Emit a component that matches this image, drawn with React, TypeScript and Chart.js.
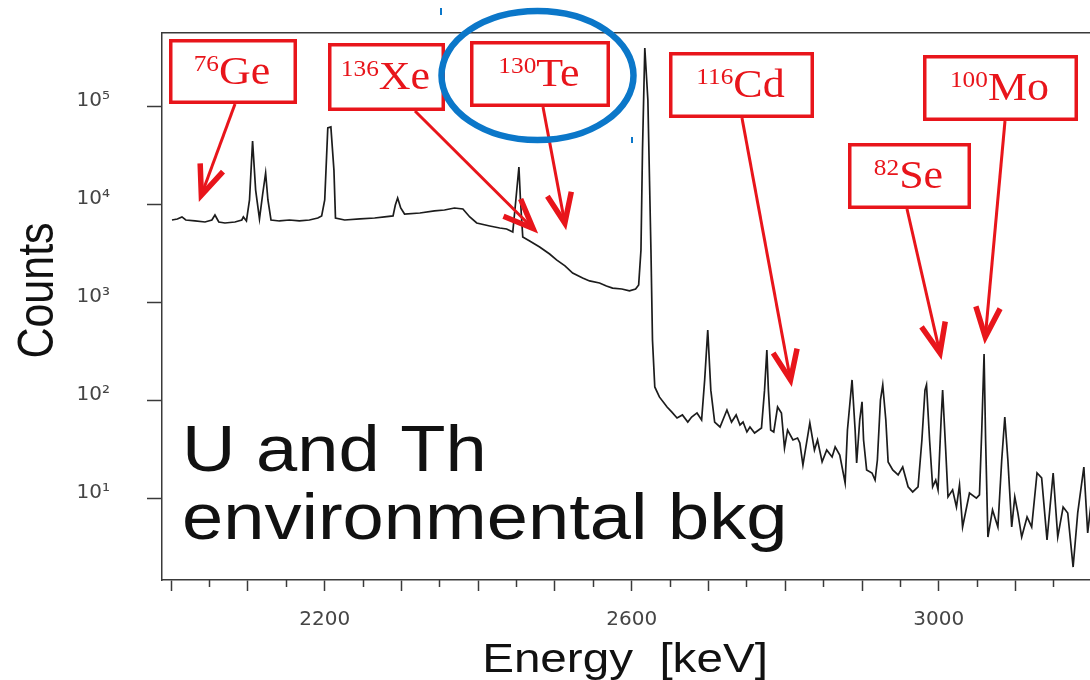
import { useEffect, useRef } from 'react';
import { Chart, registerables } from 'chart.js';

Chart.register(...registerables);

// Measured gamma spectrum (U/Th environmental background), energy in keV
const energyKeV = [
  2001, 2008, 2014, 2019, 2031, 2044, 2053, 2057, 2062, 2070,
  2083, 2092, 2094, 2098, 2102, 2106, 2110, 2115, 2119, 2123,
  2126, 2130, 2141, 2154, 2167, 2180, 2191, 2196, 2200, 2204,
  2208, 2212, 2214, 2226, 2246, 2265, 2278, 2289, 2292, 2295,
  2299, 2304, 2324, 2343, 2356, 2369, 2380, 2389, 2398, 2415,
  2428, 2437, 2445, 2449, 2453, 2455, 2458, 2467, 2480, 2493,
  2502, 2513, 2523, 2536, 2545, 2558, 2567, 2575, 2587, 2597,
  2605, 2609, 2612, 2614, 2617, 2621, 2625, 2627, 2630, 2636,
  2646, 2652, 2659, 2666, 2673, 2678, 2685, 2691, 2695, 2699,
  2703, 2708, 2715, 2724, 2730, 2736, 2741, 2745, 2750, 2754,
  2760, 2769, 2773, 2776, 2778, 2781, 2785, 2790, 2795, 2799,
  2803, 2810, 2816, 2819, 2823, 2832, 2838, 2842, 2848, 2854,
  2861, 2865, 2871, 2878, 2881, 2887, 2891, 2893, 2897, 2900,
  2902, 2906, 2913, 2917, 2920, 2924, 2927, 2931, 2934, 2940,
  2947, 2953, 2960, 2966, 2973, 2978, 2982, 2984, 2988, 2992,
  2996, 2999, 3003, 3005, 3009, 3012, 3018, 3023, 3027, 3031,
  3040, 3049, 3053, 3056, 3059, 3061, 3064, 3070, 3077, 3082,
  3086, 3090, 3095, 3099, 3103, 3108, 3115, 3121, 3128, 3134,
  3141, 3149, 3155, 3162, 3168, 3175, 3181, 3189, 3194, 3199,
];

// Counts per bin at each energy above
const counts = [
  7030, 7200, 7550, 7030, 6870, 6710, 7030, 7910, 6710, 6550,
  6710, 7030, 7550, 6870, 11250, 45000, 14200, 7200, 12650, 21200,
  11250, 7030, 6870, 7030, 6870, 7030, 7370, 7730, 11250, 61100,
  62500, 22700, 7370, 7030, 7200, 7370, 7550, 7730, 10000, 11800,
  9320, 8090, 8280, 8690, 8890, 9320, 9100, 7550, 6550, 6110,
  5820, 5690, 5300, 11250, 24400, 11250, 4710, 4290, 3730, 3160,
  2750, 2390, 2020, 1800, 1680, 1600, 1490, 1420, 1390, 1330,
  1390, 1530, 3470, 36400, 400000, 118000, 3470, 419, 139, 110,
  86.9, 77.3, 67.1, 72, 61, 68.5, 75.5, 64, 164, 530,
  129, 61, 54.3, 81, 61, 72, 56.9, 61, 48.3, 54.3,
  47.1, 53, 129, 331, 129, 50.6, 48.3, 86.9, 75.5, 33.1,
  50.6, 40, 41.9, 37.3, 22.2, 59.7, 31.6, 40, 23.9, 31.6,
  26.8, 34, 28.1, 14.6, 50.6, 164, 50.6, 23.3, 64, 98,
  40, 19.8, 18.4, 15.6, 25, 102, 146, 64, 23.9, 19.8,
  17.6, 21.2, 13.3, 11.8, 13.3, 40, 129, 146, 40, 13.3,
  15.6, 12.4, 64, 129, 31.6, 10.5, 12.4, 8.28, 13.9, 5.18,
  11.5, 10.2, 11, 50.6, 302, 40, 4.09, 7.73, 5.18, 25,
  68.7, 25, 5.18, 10.5, 7.2, 4.09, 6.55, 5.18, 18.4, 16.4,
  3.82, 18.4, 4.09, 8.28, 7.2, 2.02, 7.2, 21.2, 4.5, 10,
];

// Axis ticks
const majorTicksKeV = [2000, 2100, 2200, 2300, 2400, 2500, 2600, 2700, 2800, 2900, 3000, 3100];
const minorTicksKeV = [2050, 2150, 2250, 2350, 2450, 2550, 2650, 2750, 2850, 2950, 3050, 3150];
const labelledTicksKeV = [2200, 2600, 3000];
const countTicks = [10, 100, 1000, 10000, 100000];
const countTickLabels = ['10\u00B9', '10\u00B2', '10\u00B3', '10\u2074', '10\u2075'];

// Double-beta-decay candidates and the spectrum point each arrow marks
const isotopeMass = ['76', '136', '130', '116', '82', '100'];
const isotopeSymbol = ['Ge', 'Xe', 'Te', 'Cd', 'Se', 'Mo'];
const arrowTipKeV = [2037, 2476, 2514, 2808, 3003, 3060];
const arrowTipCounts = [11250, 5300, 5820, 146, 275, 400];

// Label box layout in canvas pixels: [left, top, right, bottom] and arrow tail
const labelBoxes = [
  [169, 39, 297, 104],
  [328, 43, 445, 111],
  [470, 41, 610, 107],
  [669, 52, 814, 118],
  [848, 143, 971, 209],
  [923, 55, 1078, 121],
];
const arrowTails = [
  [235, 104],
  [415, 111],
  [543, 107],
  [742, 118],
  [907, 209],
  [1005, 121],
];

const RED = '#e8151b';
const BLUE = '#0b77c9';
const AXIS = '#3a3a3a';
const SANS = '"Liberation Sans", Arial, sans-serif';
const SERIF = '"Liberation Serif", "Times New Roman", serif';

function stretchedText(
  ctx: CanvasRenderingContext2D,
  text: string,
  x: number,
  y: number,
  sx: number,
  align: CanvasTextAlign,
) {
  ctx.save();
  ctx.translate(x, y);
  ctx.scale(sx, 1);
  ctx.textAlign = align;
  ctx.textBaseline = 'alphabetic';
  ctx.fillText(text, 0, 0);
  ctx.restore();
}

function drawArrow(ctx: CanvasRenderingContext2D, x0: number, y0: number, tx: number, ty: number) {
  const back = Math.atan2(y0 - ty, x0 - tx);
  // pull the geometric tip back so the mitred point lands on the target
  const x1 = tx + Math.cos(back) * 5;
  const y1 = ty + Math.sin(back) * 5;
  ctx.strokeStyle = RED;
  ctx.lineCap = 'butt';
  ctx.lineJoin = 'miter';
  ctx.lineWidth = 3;
  ctx.beginPath();
  ctx.moveTo(x0, y0);
  ctx.lineTo(x1, y1);
  ctx.stroke();
  const L = 32;
  const a = 0.39;
  ctx.lineWidth = 5.5;
  ctx.beginPath();
  ctx.moveTo(x1 + L * Math.cos(back + a), y1 + L * Math.sin(back + a));
  ctx.lineTo(x1, y1);
  ctx.lineTo(x1 + L * Math.cos(back - a), y1 + L * Math.sin(back - a));
  ctx.stroke();
}

const annotationPlugin = {
  id: 'spectrumAnnotations',
  afterDraw(chart: any) {
    const ctx: CanvasRenderingContext2D = chart.ctx;
    const xs = chart.scales.x;
    const ys = chart.scales.y;
    ctx.save();

    // axis titles
    ctx.fillStyle = '#111';
    ctx.font = `43px ${SANS}`;
    ctx.save();
    ctx.translate(53, 290.5);
    ctx.rotate(-Math.PI / 2);
    ctx.scale(1, 1.15);
    ctx.textAlign = 'center';
    ctx.textBaseline = 'alphabetic';
    ctx.fillText('Counts', 0, 0);
    ctx.restore();

    ctx.font = `40px ${SANS}`;
    stretchedText(ctx, 'Energy  [keV]', 625, 672, 1.19, 'center');

    // in-plot caption
    ctx.font = `65px ${SANS}`;
    stretchedText(ctx, 'U and Th', 182, 471, 1.14, 'left');
    stretchedText(ctx, 'environmental bkg', 182, 539, 1.14, 'left');

    // arrows from label boxes to the spectrum
    arrowTails.forEach(([x0, y0], i) => {
      const tx = xs.getPixelForValue(arrowTipKeV[i]);
      const ty = ys.getPixelForValue(arrowTipCounts[i]);
      drawArrow(ctx, x0, y0, tx, ty);
    });

    // isotope label boxes
    const sx = 1.1;
    labelBoxes.forEach(([l, t, r, b], i) => {
      const lw = 3.5;
      ctx.fillStyle = '#fff';
      ctx.fillRect(l, t, r - l, b - t);
      ctx.strokeStyle = RED;
      ctx.lineWidth = lw;
      ctx.lineJoin = 'miter';
      ctx.strokeRect(l + lw / 2, t + lw / 2, r - l - lw, b - t - lw);

      const cx = (l + r) / 2 - 1;
      const base = (t + b) / 2 + 12;
      ctx.font = `23px ${SERIF}`;
      const ws = ctx.measureText(isotopeMass[i]).width;
      ctx.font = `40px ${SERIF}`;
      const wm = ctx.measureText(isotopeSymbol[i]).width;
      const start = cx - ((ws + wm) * sx) / 2;
      ctx.fillStyle = RED;
      ctx.font = `23px ${SERIF}`;
      stretchedText(ctx, isotopeMass[i], start, base - 13, sx, 'left');
      ctx.font = `40px ${SERIF}`;
      stretchedText(ctx, isotopeSymbol[i], start + ws * sx, base, sx, 'left');
    });

    // highlight ring
    ctx.strokeStyle = BLUE;
    ctx.lineWidth = 6.5;
    ctx.beginPath();
    ctx.ellipse(537.5, 75.5, 96, 64.5, 0, 0, Math.PI * 2);
    ctx.stroke();
    ctx.lineWidth = 2;
    ctx.beginPath();
    ctx.moveTo(441, 8);
    ctx.lineTo(441, 15);
    ctx.moveTo(632, 137);
    ctx.lineTo(632, 143);
    ctx.stroke();

    ctx.restore();
  },
};

function flatten(s: any) {
  s.paddingTop = 0;
  s.paddingBottom = 0;
  s.paddingLeft = 0;
  s.paddingRight = 0;
}

export default function App() {
  const canvasRef = useRef<HTMLCanvasElement>(null);

  useEffect(() => {
    const canvas = canvasRef.current;
    if (!canvas) return;
    const tickFont = { family: '"DejaVu Sans", sans-serif', size: 20 };
    const chart = new Chart(canvas, {
      type: 'line',
      data: {
        datasets: [
          {
            data: energyKeV.map((e, i) => ({ x: e, y: counts[i] })),
            borderColor: '#1c1c1c',
            borderWidth: 1.7,
            pointRadius: 0,
            tension: 0,
            fill: false,
          },
        ],
      },
      options: {
        animation: false,
        responsive: false,
        events: [],
        layout: { padding: { top: 33, left: 0, right: 0, bottom: 0 } },
        plugins: { legend: { display: false }, tooltip: { enabled: false } },
        scales: {
          x: {
            type: 'linear',
            position: 'bottom',
            weight: 1,
            min: 1988,
            max: 3197,
            afterFit: (s: any) => {
              s.height = 100;
              flatten(s);
            },
            afterBuildTicks: (s: any) => {
              s.ticks = majorTicksKeV.map((v) => ({ value: v }));
            },
            grid: { drawOnChartArea: false, drawTicks: true, tickLength: 11, tickColor: AXIS, tickWidth: 1.5 },
            border: { display: true, color: AXIS, width: 1.5 },
            ticks: {
              padding: 17,
              autoSkip: false,
              maxRotation: 0,
              color: '#454545',
              font: tickFont,
              callback: (v: any) => (labelledTicksKeV.includes(Number(v)) ? String(v) : ''),
            },
          },
          xMinor: {
            type: 'linear',
            position: 'bottom',
            weight: 0,
            min: 1988,
            max: 3197,
            afterFit: (s: any) => {
              s.height = 0;
              flatten(s);
            },
            afterBuildTicks: (s: any) => {
              s.ticks = minorTicksKeV.map((v) => ({ value: v }));
            },
            grid: { drawOnChartArea: false, drawTicks: true, tickLength: 7, tickColor: AXIS, tickWidth: 1.5 },
            border: { display: false },
            ticks: { display: false },
          },
          xTop: {
            type: 'linear',
            position: 'top',
            min: 1988,
            max: 3197,
            afterFit: (s: any) => {
              s.height = 0;
              flatten(s);
            },
            grid: { drawOnChartArea: false, drawTicks: false },
            border: { display: true, color: AXIS, width: 1.5 },
            ticks: { display: false },
          },
          y: {
            type: 'logarithmic',
            position: 'left',
            min: 1.49,
            max: 569000,
            afterFit: (s: any) => {
              s.width = 162;
              flatten(s);
            },
            afterBuildTicks: (s: any) => {
              s.ticks = countTicks.map((v) => ({ value: v }));
            },
            grid: { drawOnChartArea: false, drawTicks: true, tickLength: 15, tickColor: AXIS, tickWidth: 1.5 },
            border: { display: true, color: AXIS, width: 1.5 },
            ticks: {
              padding: 37,
              labelOffset: -6,
              color: '#454545',
              font: tickFont,
              callback: (v: any) => countTickLabels[countTicks.indexOf(Number(v))] ?? '',
            },
          },
        },
      },
      plugins: [annotationPlugin],
    });
    return () => chart.destroy();
  }, []);

  return (
    <div style={{ position: 'fixed', left: 0, top: 0, width: 1090, height: 680, background: '#fff' }}>
      <canvas ref={canvasRef} width={1090} height={680} style={{ display: 'block' }} />
    </div>
  );
}
